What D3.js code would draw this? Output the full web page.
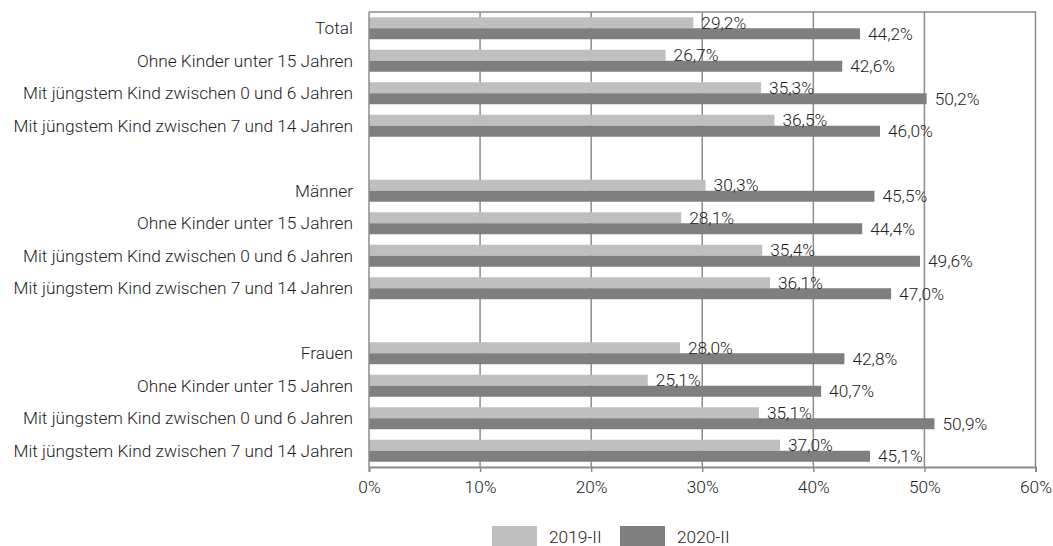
<!DOCTYPE html>
<html>
<head>
<meta charset="utf-8">
<script src="https://cdn.jsdelivr.net/npm/d3@7"></script>
<style>
  html, body { margin: 0; padding: 0; background: #fff; }
  svg { display: block; font-family: Roboto, "Noto Sans", sans-serif; font-weight: 300; }
</style>
</head>
<body>
<svg id="chart" width="1053" height="546"></svg>
<script>
const categories = [
  "Total",
  "Ohne Kinder unter 15 Jahren",
  "Mit jüngstem Kind zwischen 0 und 6 Jahren",
  "Mit jüngstem Kind zwischen 7 und 14 Jahren",
  "",
  "Männer",
  "Ohne Kinder unter 15 Jahren",
  "Mit jüngstem Kind zwischen 0 und 6 Jahren",
  "Mit jüngstem Kind zwischen 7 und 14 Jahren",
  "",
  "Frauen",
  "Ohne Kinder unter 15 Jahren",
  "Mit jüngstem Kind zwischen 0 und 6 Jahren",
  "Mit jüngstem Kind zwischen 7 und 14 Jahren"
];
const seriesNames = ["2019-II", "2020-II"];
const values2019 = [29.2, 26.7, 35.3, 36.5, null, 30.3, 28.1, 35.4, 36.1, null, 28.0, 25.1, 35.1, 37.0];
const values2020 = [44.2, 42.6, 50.2, 46.0, null, 45.5, 44.4, 49.6, 47.0, null, 42.8, 40.7, 50.9, 45.1];
const xTicks = [0, 10, 20, 30, 40, 50, 60];
const colors = ["#bfbfbf", "#7f7f7f"];

(function () {
const svg = d3.select("#chart");
const mL = 369, mR = 1035.5, mT = 12, mB = 467;
const fs = 17.3, txt = "#222";

const x = d3.scaleLinear().domain([0, 60]).range([mL, mR]);
const y = d3.scaleBand().domain(d3.range(categories.length)).range([mT, mB]);
const inner = d3.scaleBand().domain([0, 1]).range([0, 22]);
const barOffset = (y.bandwidth() - 22) / 2;

const fmt = v => d3.format(".1f")(v).replace(".", ",") + "%";

// gridlines
svg.append("g").selectAll("line").data(xTicks.slice(1, -1)).join("line")
  .attr("x1", d => x(d)).attr("x2", d => x(d))
  .attr("y1", mT).attr("y2", mB)
  .attr("stroke", "#8c8c8c").attr("stroke-width", 1.5);

// plot border (top, right)
svg.append("path")
  .attr("d", `M${mL},${mT}H${mR}V${mB}`)
  .attr("fill", "none").attr("stroke", "#8c8c8c").attr("stroke-width", 1.5);

// bars
const seriesData = [values2019, values2020];
seriesData.forEach((vals, s) => {
  svg.append("g").selectAll("rect")
    .data(vals.map((v, i) => ({ v, i })).filter(d => d.v != null))
    .join("rect")
    .attr("x", x(0))
    .attr("y", d => y(d.i) + barOffset + inner(s))
    .attr("width", d => x(d.v) - x(0))
    .attr("height", inner.bandwidth())
    .attr("fill", colors[s]);
});

// left axis line
svg.append("line")
  .attr("x1", mL).attr("x2", mL).attr("y1", mT).attr("y2", mB)
  .attr("stroke", "#8c8c8c").attr("stroke-width", 1.5);

// bottom axis
const xAxis = d3.axisBottom(x).tickValues(xTicks).tickFormat(d => d + "%").tickSize(5).tickPadding(9);
const gx = svg.append("g").attr("transform", `translate(0,${mB})`).call(xAxis);
gx.select(".domain").attr("stroke", "#8c8c8c").attr("stroke-width", 2);
gx.selectAll(".tick line").attr("stroke", "#8c8c8c").attr("stroke-width", 1.5);
gx.selectAll(".tick text").attr("font-size", fs).attr("fill", txt).attr("font-family", "Roboto").attr("font-weight", 300);

// category labels
svg.append("g").selectAll("text").data(categories).join("text")
  .attr("x", mL - 16)
  .attr("y", (d, i) => y(i) + y.bandwidth() / 2)
  .attr("dy", "0.35em")
  .attr("text-anchor", "end")
  .attr("font-size", fs)
  .attr("fill", txt)
  .text(d => d);

// value labels
seriesData.forEach((vals, s) => {
  svg.append("g").selectAll("text")
    .data(vals.map((v, i) => ({ v, i })).filter(d => d.v != null))
    .join("text")
    .attr("x", d => x(d.v) + 8)
    .attr("y", d => y(d.i) + barOffset + inner(s) + inner.bandwidth() / 2)
    .attr("dy", "0.35em")
    .attr("font-size", fs)
    .attr("fill", txt)
    .text(d => fmt(d.v));
});

// legend
const legend = svg.append("g");
const legendX = [492, 620];
seriesNames.forEach((name, s) => {
  legend.append("rect").attr("x", legendX[s]).attr("y", 526).attr("width", 45).attr("height", 20).attr("fill", colors[s]);
  legend.append("text").attr("x", legendX[s] + 57).attr("y", 537).attr("dy", "0.35em")
    .attr("font-size", fs).attr("fill", txt).text(name);
});
})();
</script>
</body>
</html>
